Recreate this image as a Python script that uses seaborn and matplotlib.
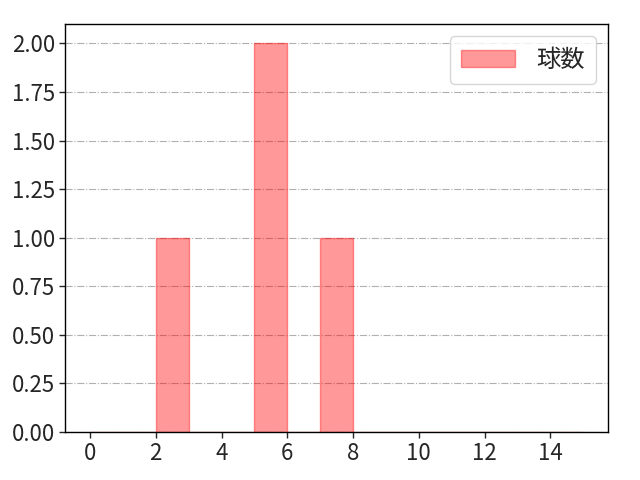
import numpy as np
import pandas as pd
import seaborn as sns
import matplotlib.pyplot as plt

# 球数データ (各値の出現)
values = [2, 5, 5, 7]
bin_edges = list(range(0, 16))
label = '球数'

sns.set_style('white')
plt.rcParams['font.family'] = ['Noto Sans CJK JP', 'DejaVu Sans']
plt.rcParams['font.size'] = 16

df = pd.DataFrame({'value': values})

fig, ax = plt.subplots(figsize=(6.4, 4.8), dpi=100)
sns.histplot(data=df, x='value', bins=bin_edges, facecolor=(1, 0, 0, 0.4),
             edgecolor=(1, 0, 0, 0.4), linewidth=1, label=label, ax=ax)
ax.set_xlabel('')
ax.set_ylabel('')
ax.set_xticks(range(0, 15, 2))
ax.yaxis.set_major_formatter(plt.FormatStrFormatter('%.2f'))
ax.grid(axis='y', linestyle='-.', color='#b0b0b0', linewidth=0.8)
ax.set_axisbelow(True)
for s in ax.spines.values():
    s.set_color('black')
    s.set_linewidth(1)
ax.tick_params(axis='both', which='major', length=4, width=1, bottom=True, left=True, labelsize=16)
ax.legend(loc='upper right', fontsize=17.5, handlelength=2.2, handletextpad=0.9, borderpad=0.45)
fig.subplots_adjust(left=0.102, right=0.95, top=0.95, bottom=0.1)
plt.savefig('out.png')
